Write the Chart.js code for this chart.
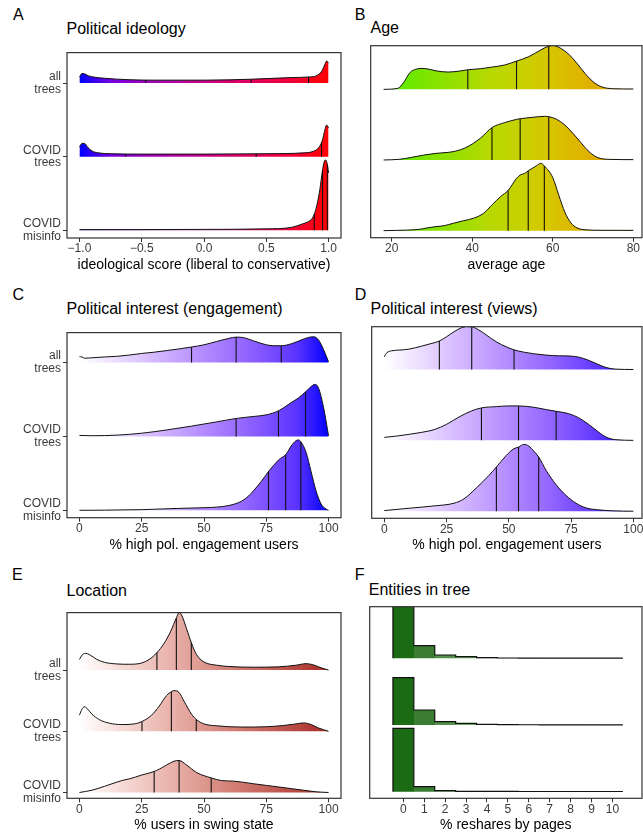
<!DOCTYPE html>
<html>
<head>
<meta charset="utf-8">
<script src="https://cdn.jsdelivr.net/npm/chart.js@4.4.1/dist/chart.umd.min.js"></script>
<style>
  html, body { margin: 0; padding: 0; background: #fff; overflow: hidden; }
  #fig { position: relative; width: 643px; height: 835px; overflow: hidden; background: #fff;
         font-family: "Liberation Sans", Arial, Helvetica, sans-serif; }
  #fig canvas { position: absolute; }
  .lbl { position: absolute; white-space: nowrap; line-height: 1; color: #000; }
  .tag { font-size: 16px; }
  .ttl { font-size: 16px; }
</style>
</head>
<body>
<div id="fig">
  <div class="lbl tag" style="left:13px;top:6.5px">A</div>
  <div class="lbl ttl" style="left:66.5px;top:20.5px">Political ideology</div>
  <div class="lbl tag" style="left:354.8px;top:6.5px">B</div>
  <div class="lbl ttl" style="left:370.5px;top:19.8px">Age</div>
  <div class="lbl tag" style="left:12.5px;top:286.5px">C</div>
  <div class="lbl ttl" style="left:66.5px;top:300.8px">Political interest (engagement)</div>
  <div class="lbl tag" style="left:354.8px;top:286.5px">D</div>
  <div class="lbl ttl" style="left:370.5px;top:300.8px">Political interest (views)</div>
  <div class="lbl tag" style="left:12.1px;top:567.2px">E</div>
  <div class="lbl ttl" style="left:66.5px;top:582.5px">Location</div>
  <div class="lbl tag" style="left:354.8px;top:567.2px">F</div>
  <div class="lbl ttl" style="left:368.8px;top:581.5px">Entities in tree</div>
  <canvas id="cA"></canvas>
  <canvas id="cB"></canvas>
  <canvas id="cC"></canvas>
  <canvas id="cD"></canvas>
  <canvas id="cE"></canvas>
  <canvas id="cF"></canvas>
</div>
<script>
// ---------- groups (bottom row first) ----------
const groupLabels = [['COVID', 'misinfo'], ['COVID', 'trees'], ['all', 'trees']];

// ---------- A: political ideology ----------
const ideologyTicks = [-1, -0.5, 0, 0.5, 1];
const ideologyTickLabels = ['\u22121.0', '\u22120.5', '0.0', '0.5', '1.0'];
const ideologyAllX = [-1.0, -0.98, -0.96, -0.93, -0.9, -0.8, -0.6, -0.4, -0.2, 0, 0.2, 0.38, 0.5, 0.7, 0.85, 0.9, 0.93, 0.95, 0.97, 0.985, 1.0];
const ideologyAllDensity = [0.08, 0.13, 0.126, 0.1, 0.085, 0.065, 0.045, 0.039, 0.039, 0.039, 0.043, 0.052, 0.06, 0.074, 0.083, 0.096, 0.13, 0.174, 0.25, 0.30, 0.27];
const ideologyAllQuartiles = [-0.469, 0.379, 0.84];
const ideologyCovidX = [-1.0, -0.98, -0.96, -0.93, -0.9, -0.85, -0.75, -0.5, 0, 0.5, 0.8, 0.88, 0.92, 0.95, 0.97, 0.985, 1.0];
const ideologyCovidDensity = [0.13, 0.18, 0.18, 0.12, 0.078, 0.052, 0.04, 0.035, 0.035, 0.04, 0.052, 0.074, 0.12, 0.22, 0.36, 0.43, 0.39];
const ideologyCovidQuartiles = [-0.629, 0.419, 0.944];
const ideologyMisinfoX = [-1.0, -0.5, 0, 0.5, 0.7, 0.79, 0.85, 0.87, 0.89, 0.91, 0.93, 0.95, 0.965, 0.975, 0.985, 0.993, 1.0];
const ideologyMisinfoDensity = [0.01, 0.01, 0.013, 0.02, 0.04, 0.087, 0.13, 0.165, 0.24, 0.37, 0.55, 0.8, 0.93, 0.956, 0.93, 0.87, 0.78];
const ideologyMisinfoQuartiles = [0.885, 0.952, 0.99];

// ---------- B: age ----------
const ageTicks = [20, 40, 60, 80];
const ageTickLabels = ['20', '40', '60', '80'];
const ageAllX = [18, 21.5, 23, 24.5, 26, 27.5, 29, 31, 34, 37, 39, 42, 45, 48, 51, 54, 57, 59, 60, 62, 64, 66, 68, 70, 72, 75, 80];
const ageAllDensity = [0, 0.014, 0.10, 0.235, 0.285, 0.297, 0.288, 0.262, 0.245, 0.26, 0.278, 0.292, 0.316, 0.344, 0.40, 0.462, 0.557, 0.613, 0.623, 0.58, 0.495, 0.368, 0.226, 0.108, 0.038, 0.009, 0.005];
const ageAllQuartiles = [38.9, 51, 59];
const ageCovidX = [18, 22, 25, 28, 31, 34, 36, 38, 40, 42, 45, 48, 51, 52, 55, 58, 59, 61, 63, 65, 67, 69, 71, 74, 80];
const ageCovidDensity = [0, 0.01, 0.038, 0.07, 0.094, 0.108, 0.127, 0.165, 0.226, 0.307, 0.462, 0.528, 0.575, 0.585, 0.604, 0.618, 0.613, 0.575, 0.495, 0.377, 0.245, 0.118, 0.038, 0.009, 0.005];
const ageCovidQuartiles = [44.9, 51.9, 59];
const ageMisinfoX = [18, 24, 27, 29, 31, 33, 35.3, 37.8, 40.3, 42.8, 45, 47, 49, 51, 52, 53, 54, 56, 57, 58, 60, 61.5, 63, 64.5, 66, 68, 72, 80];
const ageMisinfoDensity = [0, 0.008, 0.02, 0.04, 0.057, 0.07, 0.104, 0.14, 0.175, 0.245, 0.37, 0.48, 0.575, 0.74, 0.79, 0.81, 0.85, 0.92, 0.953, 0.91, 0.75, 0.5, 0.26, 0.11, 0.04, 0.012, 0.005, 0.004];
const ageMisinfoQuartiles = [48.9, 53.9, 57.9];

// ---------- C: political interest (engagement) ----------
const pctTicks = [0, 25, 50, 75, 100];
const pctTickLabels = ['0', '25', '50', '75', '100'];
const engageAllX = [0, 1, 2, 4, 10, 15, 20, 25, 30, 35, 40, 45, 50, 55, 60, 63, 66, 70, 75, 78, 81, 85, 89, 92, 94, 96, 98, 100];
const engageAllDensity = [0.078, 0.075, 0.057, 0.061, 0.074, 0.083, 0.1, 0.122, 0.139, 0.161, 0.183, 0.209, 0.239, 0.283, 0.326, 0.343, 0.335, 0.291, 0.239, 0.226, 0.226, 0.252, 0.304, 0.339, 0.348, 0.304, 0.174, 0.009];
const engageAllQuartiles = [45, 62.9, 81];
const engageCovidX = [0, 5, 15, 25, 35, 45, 55, 63, 70, 75, 80, 85, 88, 91, 93, 94.5, 96, 98, 100];
const engageCovidDensity = [0.013, 0.009, 0.017, 0.043, 0.087, 0.139, 0.196, 0.243, 0.27, 0.291, 0.348, 0.457, 0.522, 0.609, 0.674, 0.704, 0.652, 0.391, 0.009];
const engageCovidQuartiles = [62.9, 79.9, 90.8];
const engageMisinfoX = [0, 10, 25, 40, 50, 55, 60, 65, 68, 70, 73, 76, 78, 80, 83, 85, 87, 88, 89, 91, 93, 95, 97, 99, 100];
const engageMisinfoDensity = [0, 0.002, 0.009, 0.026, 0.035, 0.043, 0.065, 0.122, 0.196, 0.27, 0.391, 0.53, 0.609, 0.683, 0.761, 0.87, 0.943, 0.952, 0.922, 0.783, 0.522, 0.261, 0.087, 0.017, 0];
const engageMisinfoQuartiles = [75.9, 82.8, 88.9];

// ---------- D: political interest (views) ----------
const viewsAllX = [0, 0.5, 1, 3, 6, 10, 15, 20, 22, 25, 28, 31, 33, 35, 38, 41, 45, 49, 52, 56, 60, 65, 70, 75, 80, 85, 89, 93, 100];
const viewsAllDensity = [0.179, 0.21, 0.236, 0.264, 0.274, 0.288, 0.33, 0.377, 0.40, 0.462, 0.533, 0.59, 0.608, 0.604, 0.557, 0.486, 0.39, 0.32, 0.278, 0.245, 0.222, 0.203, 0.193, 0.189, 0.156, 0.085, 0.028, 0.005, 0];
const viewsAllQuartiles = [22.1, 35.1, 52.1];
const viewsCovidX = [0, 5, 10, 15, 20, 25, 30, 35, 39, 45, 50, 54, 60, 65, 69, 74, 78, 82, 86, 89, 93, 100];
const viewsCovidDensity = [0.042, 0.061, 0.085, 0.113, 0.151, 0.226, 0.33, 0.415, 0.458, 0.476, 0.486, 0.486, 0.467, 0.434, 0.41, 0.377, 0.32, 0.226, 0.118, 0.047, 0.009, 0];
const viewsCovidQuartiles = [39, 53.9, 69];
const viewsMisinfoX = [0, 10, 20, 28, 32, 37, 42, 45, 49, 52, 54, 56, 58, 60, 62, 65, 69, 73, 77, 81, 86, 92, 100];
const viewsMisinfoDensity = [0.009, 0.042, 0.075, 0.113, 0.175, 0.33, 0.505, 0.623, 0.788, 0.882, 0.906, 0.943, 0.92, 0.849, 0.764, 0.575, 0.373, 0.222, 0.113, 0.047, 0.019, 0.005, 0];
const viewsMisinfoQuartiles = [45, 53.9, 62];

// ---------- E: location ----------
const swingAllX = [0, 1, 2.5, 4, 7, 10, 15, 20, 25, 28, 31, 34, 36.5, 39, 40, 41, 43, 45, 47, 50, 55, 60, 70, 80, 87, 91, 94, 97, 100];
const swingAllDensity = [0.174, 0.243, 0.274, 0.253, 0.174, 0.127, 0.1, 0.095, 0.116, 0.174, 0.28, 0.438, 0.623, 0.86, 0.94, 0.9, 0.675, 0.438, 0.253, 0.132, 0.08, 0.058, 0.047, 0.053, 0.08, 0.105, 0.084, 0.037, 0];
const swingAllQuartiles = [31.1, 38.9, 44.9];
const swingCovidX = [0, 1, 2, 3, 5, 8, 12, 17, 22, 25, 29, 32, 35, 37, 38, 40, 42, 45, 47, 50, 55, 65, 75, 82, 87, 90, 93, 96, 100];
const swingCovidDensity = [0.264, 0.36, 0.40, 0.375, 0.28, 0.19, 0.132, 0.11, 0.12, 0.158, 0.264, 0.41, 0.586, 0.649, 0.665, 0.633, 0.49, 0.28, 0.19, 0.12, 0.09, 0.069, 0.074, 0.095, 0.12, 0.137, 0.11, 0.053, 0];
const swingCovidQuartiles = [25.1, 36.9, 46.9];
const swingMisinfoX = [0, 5, 10, 15, 17, 20, 25, 30, 32, 35, 38, 40, 43, 47, 53, 57, 62, 70, 75, 80, 85, 90, 95, 100];
const swingMisinfoDensity = [0, 0.037, 0.1, 0.169, 0.195, 0.222, 0.285, 0.343, 0.38, 0.449, 0.512, 0.522, 0.449, 0.327, 0.237, 0.195, 0.185, 0.142, 0.116, 0.09, 0.063, 0.037, 0.011, 0];
const swingMisinfoQuartiles = [30, 40, 52.9];

// ---------- F: entities in tree (histogram of % reshares by pages) ----------
const pageBins = [0, 1, 2, 3, 4, 5, 6, 7, 8, 9, 10];
const pageTickLabels = ['0', '1', '2', '3', '4', '5', '6', '7', '8', '9', '10'];
const pagesAllHeights = [0.79, 0.19, 0.05, 0.025, 0.01, 0.005, 0.004, 0.003, 0.003, 0.002, 0.002];
const pagesCovidHeights = [0.71, 0.225, 0.05, 0.025, 0.01, 0.005, 0.004, 0.003, 0.002, 0.002, 0.002];
const pagesMisinfoHeights = [0.95, 0.075, 0.015, 0.005, 0.003, 0.003, 0.002, 0.002, 0.002, 0.002, 0.002];

// ---------- styling ----------
const FONT = '"Liberation Sans", Arial, Helvetica, sans-serif';
const INK = '#111111';
const FRAME = '#333333';
const TICK_TEXT = '#3a3a3a';
const pageBarColors = ['#1b6a14', '#3a7d32', '#55904d', '#68a060', '#7aac72', '#8cb985', '#9ec597', '#b0d1aa', '#c1dcbc', '#d2e7ce', '#e2f1df'];
const ideologyRamp = [[-1, '#0000FF'], [1, '#FF0000']];
const ageRamp = [[18, '#50F000'], [25, '#6EE800'], [35, '#94E000'], [44, '#B5D900'], [52, '#C7D100'], [59, '#D6C600'], [64, '#DCBA00'], [70, '#E0AF00'], [80, '#E3A400']];
const interestRamp = [[0, '#FFFFFF'], [100, '#0000FF']];
const swingRamp = [[0, '#FFFFFF'], [100, '#A82A2A']];
Chart.defaults.font.family = FONT;

// CIELAB interpolation for the continuous fill ramps
function hexRgb(h) { h = h.replace('#', ''); return [0, 2, 4].map(i => parseInt(h.substr(i, 2), 16)); }
function toLab(c) {
  const lin = c.map(v => { v /= 255; return v <= 0.04045 ? v / 12.92 : Math.pow((v + 0.055) / 1.055, 2.4); });
  const X = (0.4124 * lin[0] + 0.3576 * lin[1] + 0.1805 * lin[2]) / 0.95047;
  const Y = 0.2126 * lin[0] + 0.7152 * lin[1] + 0.0722 * lin[2];
  const Z = (0.0193 * lin[0] + 0.1192 * lin[1] + 0.9505 * lin[2]) / 1.08883;
  const f = t => t > 0.008856 ? Math.cbrt(t) : 7.787 * t + 16 / 116;
  const fx = f(X), fy = f(Y), fz = f(Z);
  return [116 * fy - 16, 500 * (fx - fy), 200 * (fy - fz)];
}
function fromLab(lab) {
  const fy = (lab[0] + 16) / 116, fx = fy + lab[1] / 500, fz = fy - lab[2] / 200;
  const inv = t => { const t3 = t * t * t; return t3 > 0.008856 ? t3 : (t - 16 / 116) / 7.787; };
  const X = inv(fx) * 0.95047, Y = inv(fy), Z = inv(fz) * 1.08883;
  const r = 3.2406 * X - 1.5372 * Y - 0.4986 * Z;
  const g = -0.9689 * X + 1.8758 * Y + 0.0415 * Z;
  const b = 0.0557 * X - 0.2040 * Y + 1.0570 * Z;
  return [r, g, b].map(v => {
    v = v <= 0.0031308 ? 12.92 * v : 1.055 * Math.pow(v, 1 / 2.4) - 0.055;
    return Math.round(Math.max(0, Math.min(1, v)) * 255);
  });
}
function mixLab(c0, c1, t) {
  const a = toLab(hexRgb(c0)), b = toLab(hexRgb(c1));
  const m = fromLab(a.map((v, i) => v + (b[i] - v) * t));
  return 'rgb(' + m[0] + ',' + m[1] + ',' + m[2] + ')';
}

// horizontal colour ramp along the x scale through the given [value, colour] stops
function rampFill(stops) {
  return (context) => {
    const chart = context.chart;
    if (!chart.chartArea) return stops[0][1];
    const sx = chart.scales.x;
    const lo = stops[0][0], hi = stops[stops.length - 1][0];
    const g = chart.ctx.createLinearGradient(sx.getPixelForValue(lo), 0, sx.getPixelForValue(hi), 0);
    for (let s = 0; s < stops.length - 1; s++) {
      const [v0, c0] = stops[s], [v1, c1] = stops[s + 1];
      const n = 8;
      for (let i = 0; i <= n; i++) {
        const v = v0 + (v1 - v0) * i / n;
        g.addColorStop((v - lo) / (hi - lo), mixLab(c0, c1, i / n));
      }
    }
    return g;
  };
}

// one flat colour per histogram bin
function binFill(bins, colors) {
  return (context) => {
    const chart = context.chart;
    if (!chart.chartArea) return colors[0];
    const sx = chart.scales.x;
    const x0 = sx.getPixelForValue(bins[0] - 0.5), x1 = sx.getPixelForValue(bins[bins.length - 1] + 0.5);
    const g = chart.ctx.createLinearGradient(x0, 0, x1, 0);
    const n = bins.length;
    bins.forEach((b, i) => {
      g.addColorStop(i / n, colors[i]);
      g.addColorStop((i + 1) / n - 1e-4, colors[i]);
    });
    return g;
  };
}

// density height at x (linear between stored samples)
function heightAt(xs, ds, q) {
  for (let i = 1; i < xs.length; i++) {
    if (q <= xs[i]) {
      const t = (q - xs[i - 1]) / (xs[i] - xs[i - 1]);
      return ds[i - 1] + t * (ds[i] - ds[i - 1]);
    }
  }
  return ds[ds.length - 1];
}

// rows are listed bottom first; row k sits on baseline y = k
function ridgeDatasets(rows, fill) {
  const out = [];
  rows.forEach((r, k) => {
    out.push({
      data: r.x.map((x, i) => ({ x: x, y: k + r.d[i] })),
      fill: { value: k },
      backgroundColor: fill,
      borderColor: INK,
      borderWidth: 1,
      borderJoinStyle: 'round',
      pointRadius: 0,
      cubicInterpolationMode: 'monotone',
      order: 10 * k + 5
    });
    r.q.forEach(q => {
      out.push({
        data: [{ x: q, y: k }, { x: q, y: k + heightAt(r.x, r.d, q) }],
        borderColor: INK,
        borderWidth: 1.1,
        pointRadius: 0,
        fill: false,
        order: 10 * k + 1
      });
    });
  });
  return out;
}

// stepped outline over the bins: left edge up, then one flat run per bin
function histDatasets(rows, bins, fill) {
  return rows.map((h, k) => {
    const pts = [{ x: bins[0] - 0.5, y: k }];
    bins.forEach((b, i) => pts.push({ x: b - 0.5, y: k + h[i] }));
    pts.push({ x: bins[bins.length - 1] + 0.5, y: k + h[h.length - 1] });
    return {
      data: pts,
      stepped: 'before',
      fill: { value: k },
      backgroundColor: fill,
      borderColor: INK,
      borderWidth: 1.2,
      pointRadius: 0,
      order: 10 * k + 5
    };
  });
}

const panelFrame = {
  id: 'panelFrame',
  afterDatasetsDraw(chart) {
    const a = chart.chartArea, ctx = chart.ctx;
    ctx.save();
    ctx.strokeStyle = FRAME;
    ctx.lineWidth = 1.2;
    ctx.strokeRect(a.left, a.top, a.right - a.left, a.bottom - a.top);
    ctx.restore();
  }
};

function makePanel(id, geo, spec) {
  const cv = document.getElementById(id);
  const [cl, ct, cw, ch] = geo.canvas;
  const [bl, bt, br, bb] = geo.box;
  cv.width = cw; cv.height = ch;
  cv.style.left = cl + 'px'; cv.style.top = ct + 'px';
  cv.style.width = cw + 'px'; cv.style.height = ch + 'px';
  const leftW = bl - cl, axisH = ct + ch - bb;

  const yScale = spec.groups ? {
    type: 'linear', min: spec.yMin, max: spec.yMax,
    afterBuildTicks: s => { s.ticks = [0, 1, 2].map(v => ({ value: v })); },
    afterFit: s => { s.width = leftW; },
    ticks: {
      autoSkip: false, padding: 2, color: TICK_TEXT,
      font: { size: 12, lineHeight: 1.05 },
      callback: (v, i) => spec.groups[i]
    },
    grid: { drawOnChartArea: false, drawTicks: true, tickLength: 4, color: FRAME, lineWidth: 1 },
    border: { display: false }
  } : { type: 'linear', display: false, min: spec.yMin, max: spec.yMax };

  return new Chart(cv, {
    type: 'line',
    data: { datasets: spec.datasets },
    options: {
      responsive: false, animation: false, devicePixelRatio: 1, events: [],
      layout: { padding: { top: bt - ct, right: cl + cw - br, bottom: 0, left: spec.groups ? 0 : leftW } },
      plugins: { legend: { display: false }, tooltip: { enabled: false }, title: { display: false } },
      scales: {
        x: {
          type: 'linear', position: 'bottom', min: spec.xMin, max: spec.xMax,
          afterBuildTicks: s => { s.ticks = spec.xTicks.map(v => ({ value: v })); },
          afterFit: s => { s.height = axisH; },
          ticks: {
            autoSkip: false, maxRotation: 0, minRotation: 0, padding: 1, color: TICK_TEXT,
            font: { size: 12, lineHeight: 1 },
            callback: (v, i) => spec.xLabels[i]
          },
          grid: { drawOnChartArea: false, drawTicks: true, tickLength: 4, color: FRAME, lineWidth: 1 },
          border: { display: false },
          title: {
            display: true, text: spec.xTitle, color: '#000',
            font: { size: 14, lineHeight: 1.2 }, padding: { top: 0, bottom: 2 }
          }
        },
        y: yScale
      }
    },
    plugins: [panelFrame]
  });
}

// ---------- A ----------
makePanel('cA', { canvas: [0, 38, 346, 238], box: [67, 45, 341, 238] }, {
  groups: groupLabels, yMin: -0.104, yMax: 2.413,
  xMin: -1.1, xMax: 1.1, xTicks: ideologyTicks, xLabels: ideologyTickLabels,
  xTitle: 'ideological score (liberal to conservative)',
  datasets: ridgeDatasets([
    { x: ideologyMisinfoX, d: ideologyMisinfoDensity, q: ideologyMisinfoQuartiles },
    { x: ideologyCovidX, d: ideologyCovidDensity, q: ideologyCovidQuartiles },
    { x: ideologyAllX, d: ideologyAllDensity, q: ideologyAllQuartiles }
  ], rampFill(ideologyRamp))
});

// ---------- B ----------
makePanel('cB', { canvas: [346, 38, 314, 238], box: [370.7, 45.7, 642, 237.7] }, {
  groups: null, yMin: -0.1, yMax: 2.618,
  xMin: 14.79, xMax: 82.15, xTicks: ageTicks, xLabels: ageTickLabels,
  xTitle: 'average age',
  datasets: ridgeDatasets([
    { x: ageMisinfoX, d: ageMisinfoDensity, q: ageMisinfoQuartiles },
    { x: ageCovidX, d: ageCovidDensity, q: ageCovidQuartiles },
    { x: ageAllX, d: ageAllDensity, q: ageAllQuartiles }
  ], rampFill(ageRamp))
});

// ---------- C ----------
makePanel('cC', { canvas: [0, 318, 346, 238], box: [67, 325.7, 341, 517.7] }, {
  groups: groupLabels, yMin: -0.1, yMax: 2.404,
  xMin: -5, xMax: 105, xTicks: pctTicks, xLabels: pctTickLabels,
  xTitle: '% high pol. engagement users',
  datasets: ridgeDatasets([
    { x: engageMisinfoX, d: engageMisinfoDensity, q: engageMisinfoQuartiles },
    { x: engageCovidX, d: engageCovidDensity, q: engageCovidQuartiles },
    { x: engageAllX, d: engageAllDensity, q: engageAllQuartiles }
  ], rampFill(interestRamp))
});

// ---------- D ----------
makePanel('cD', { canvas: [346, 318, 314, 238], box: [371.7, 326.7, 642, 518.3] }, {
  groups: null, yMin: -0.1, yMax: 2.604,
  xMin: -5.07, xMax: 103.48, xTicks: pctTicks, xLabels: pctTickLabels,
  xTitle: '% high pol. engagement users',
  datasets: ridgeDatasets([
    { x: viewsMisinfoX, d: viewsMisinfoDensity, q: viewsMisinfoQuartiles },
    { x: viewsCovidX, d: viewsCovidDensity, q: viewsCovidQuartiles },
    { x: viewsAllX, d: viewsAllDensity, q: viewsAllQuartiles }
  ], rampFill(interestRamp))
});

// ---------- E ----------
makePanel('cE', { canvas: [0, 598, 346, 238], box: [67, 606.7, 341, 798.3] }, {
  groups: groupLabels, yMin: -0.095, yMax: 2.939,
  xMin: -5, xMax: 105, xTicks: pctTicks, xLabels: pctTickLabels,
  xTitle: '% users in swing state',
  datasets: ridgeDatasets([
    { x: swingMisinfoX, d: swingMisinfoDensity, q: swingMisinfoQuartiles },
    { x: swingCovidX, d: swingCovidDensity, q: swingCovidQuartiles },
    { x: swingAllX, d: swingAllDensity, q: swingAllQuartiles }
  ], rampFill(swingRamp))
});

// ---------- F ----------
makePanel('cF', { canvas: [346, 598, 314, 238], box: [369.7, 606.7, 642, 798.3] }, {
  groups: null, yMin: -0.1, yMax: 2.775,
  xMin: -1.611, xMax: 11.415, xTicks: pageBins, xLabels: pageTickLabels,
  xTitle: '% reshares by pages',
  datasets: histDatasets([pagesMisinfoHeights, pagesCovidHeights, pagesAllHeights], pageBins,
    binFill(pageBins, pageBarColors))
});
</script>
</body>
</html>
